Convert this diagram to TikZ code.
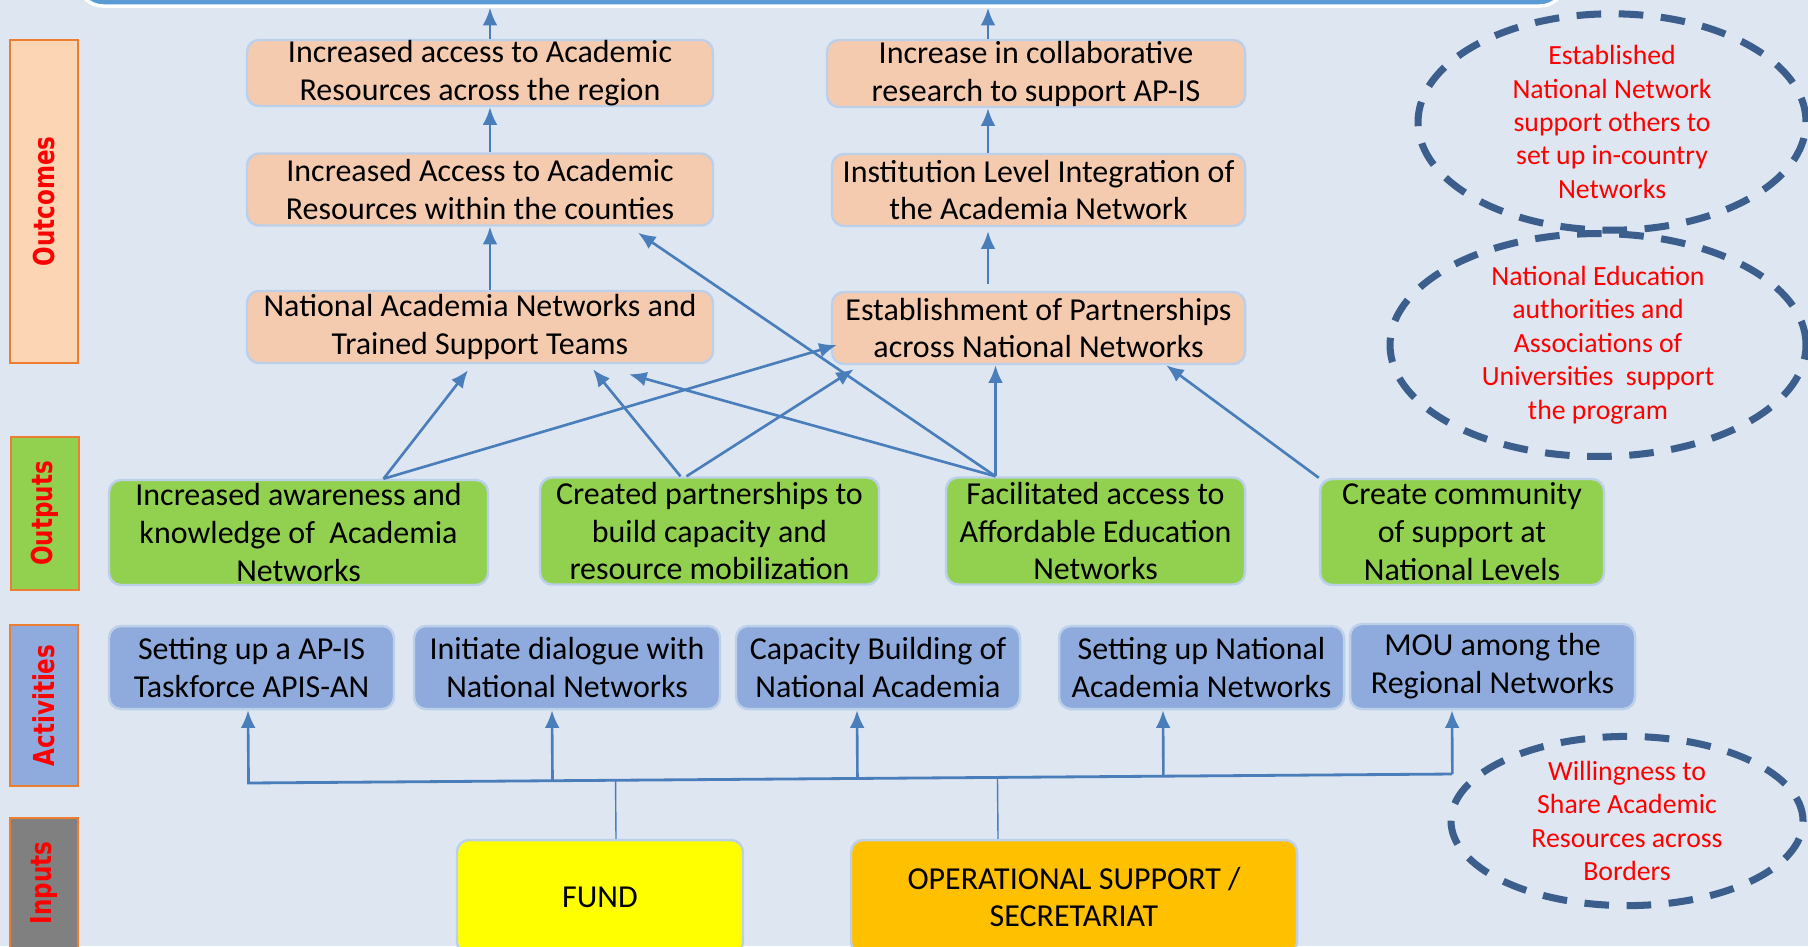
\documentclass[tikz,border=0pt]{standalone}
\usepackage{fontspec}
\setmainfont{Carlito}
\newfontfamily\sidefont{DejaVu Sans}[FakeStretch=0.8]
\usetikzlibrary{positioning}
\usetikzlibrary{calc}
\usetikzlibrary{shapes.geometric}
\usetikzlibrary{arrows.meta}
\definecolor{bg}{HTML}{DDE6F1}
\definecolor{goalblue}{HTML}{5B9BD5}
\definecolor{outcomefill}{HTML}{F5CBAF}
\definecolor{outcomelabel}{HTML}{FCD5B5}
\definecolor{outputfill}{HTML}{92D050}
\definecolor{activityfill}{HTML}{8FAADC}
\definecolor{inputlabel}{HTML}{808080}
\definecolor{fundfill}{HTML}{FFFF00}
\definecolor{opsfill}{HTML}{FFC000}
\definecolor{labeledge}{HTML}{ED7D31}
\definecolor{boxedge}{HTML}{BDD0EA}
\definecolor{linkblue}{HTML}{4A7EBB}
\definecolor{dashblue}{HTML}{3B5E8C}
\definecolor{redtext}{HTML}{FF0000}
\def\myrowheight{0.72cm}
\def\mylabelwidth{0.68cm}
\tikzset{
semithick, % All lines semithick
>={Latex[length=5pt,width=4.2pt]},
my node/.style={rectangle,rounded corners=1.2mm,draw=boxedge,line width=0.7pt,align=center,inner sep=0mm,font=\fontsize{9.1}{10.8}\selectfont},
outcome/.style={my node,fill=outcomefill,minimum height=\myrowheight},
outputbox/.style={my node,fill=outputfill,minimum height=1.07cm},
activity/.style={my node,fill=activityfill,minimum height=0.83cm},
inputbox/.style={my node,minimum height=1.14cm},
side label/.style={rectangle,draw=labeledge,line width=0.8pt,minimum height=\mylabelwidth,inner sep=0mm,text=redtext,font=\sidefont\bfseries\fontsize{8.2}{9}\selectfont,rotate=90},
assumption/.style={ellipse,draw=dashblue,line width=2pt,dash pattern=on 7pt off 5pt,align=center,inner sep=0mm,text=redtext,font=\fontsize{7.9}{9.5}\selectfont},
link/.style={->,draw=linkblue,line width=0.75pt},
}
\begin{document}
\begin{tikzpicture}
\useasboundingbox (0,0) rectangle (18.08,-9.46);
\clip (0,0) rectangle (18.08,-9.46);
\fill[bg] (0,0) rectangle (18.08,-9.46);
\node[rectangle,rounded corners=2.5mm,fill=goalblue,draw=white,line width=1pt,minimum width=14.87cm,minimum height=0.46cm] (goal) at (8.215,0.17) {};

\node[side label,fill=outcomelabel,minimum width=3.23cm] (lout) at (0.44,-2.015) {Outcomes};
\node[side label,fill=outputfill,minimum width=1.53cm] (lput) at (0.45,-5.135) {Outputs};
\node[side label,fill=activityfill,minimum width=1.61cm] (lact) at (0.44,-7.055) {Activities};
\node[side label,fill=inputlabel,minimum width=1.30cm] (linp) at (0.44,-8.83) {Inputs};

\node[outcome,minimum width=4.66cm,minimum height=0.66cm] (o1) at (4.80,-0.73) {Increased access to Academic\\Resources across the region};
\node[outcome,minimum width=4.66cm] (o2) at (4.80,-1.895) {Increased Access to Academic\\Resources within the counties};
\node[outcome,minimum width=4.66cm] (o3) at (4.80,-3.27) {National Academia Networks and\\Trained Support Teams};
\node[outcome,minimum width=4.18cm,minimum height=0.67cm] (o4) at (10.36,-0.735) {Increase in collaborative\\research to support AP-IS};
\node[outcome,minimum width=4.13cm] (o5) at (10.385,-1.90) {Institution Level Integration of\\the Academia Network};
\node[outcome,minimum width=4.13cm] (o6) at (10.385,-3.28) {Establishment of Partnerships\\across National Networks};

\node[outputbox,minimum width=3.79cm,minimum height=1.05cm] (p1) at (2.985,-5.325) {Increased awareness and\\knowledge of~~Academia\\Networks};
\node[outputbox,minimum width=3.39cm] (p2) at (7.095,-5.31) {Created partnerships to\\build capacity and\\resource mobilization};
\node[outputbox,minimum width=2.99cm] (p3) at (10.955,-5.31) {Facilitated access to\\Affordable Education\\Networks};
\node[outputbox,minimum width=2.84cm,minimum height=1.06cm] (p4) at (14.62,-5.32) {Create community\\of support at\\National Levels};

\node[activity,minimum width=2.85cm] (a1) at (2.515,-6.675) {Setting up a AP-IS\\Taskforce APIS-AN};
\node[activity,minimum width=3.06cm] (a2) at (5.67,-6.675) {Initiate dialogue with\\National Networks};
\node[activity,minimum width=2.84cm] (a3) at (8.78,-6.675) {Capacity Building of\\National Academia};
\node[activity,minimum width=2.85cm] (a4) at (12.015,-6.675) {Setting up National\\Academia Networks};
\node[activity,minimum width=2.85cm,minimum height=0.85cm] (a5) at (14.925,-6.665) {MOU among the\\Regional Networks};

\node[inputbox,fill=fundfill,minimum width=2.86cm] (fund) at (6.00,-8.97) {FUND};
\node[inputbox,fill=opsfill,minimum width=4.46cm] (ops) at (10.74,-8.97) {OPERATIONAL SUPPORT /\\SECRETARIAT};

\node[assumption,minimum width=3.88cm,minimum height=2.06cm] (e1) at (16.12,-1.22) {Established\\National Network\\support others to\\set up in-country\\Networks};
\node[assumption,minimum width=4.16cm,minimum height=1.98cm] (e2) at (15.98,-3.45) {National Education\\authorities and\\Associations of\\Universities~~support\\the program};
\node[assumption,minimum width=3.52cm,minimum height=1.68cm] (e3) at (16.27,-8.21) {Willingness to\\Share Academic\\Resources across\\Borders};

% outcomes
\coordinate (colA) at (4.90,0);
\coordinate (colB) at (9.88,0);
\draw[link] (o1.north -| colA) -- (goal.south -| colA);
\draw[link] (o2.north -| colA) -- (o1.south -| colA);
\draw[link] (o3.north -| colA) -- (o2.south -| colA);
\draw[link] (o4.north -| colB) -- (goal.south -| colB);
\draw[link] (o5.north -| colB) -- (o4.south -| colB);
\draw[link] ([yshift=0.7mm]o6.north -| colB) -- ([yshift=-0.4mm]o5.south -| colB);

% outputs
\coordinate (p1top) at ([xshift=8.5mm]p1.north);
\coordinate (p2topa) at ([xshift=-2.9mm]p2.north);
\coordinate (p2topb) at ([xshift=-2.3mm]p2.north);
\coordinate (p3top) at ([xshift=-10mm]p3.north);
\draw[link] (p1top) -- ([shift={(-1.2mm,-0.6mm)}]o3.south);
\draw[link] (p1top) -- ([shift={(0.6mm,-1.7mm)}]o6.west);
\draw[link] (p2topa) -- ([shift={(11.3mm,-0.5mm)}]o3.south);
\draw[link] (p2topb) -- ([shift={(2.3mm,-0.4mm)}]o6.south west);
\draw[link] (p3top) -- ([shift={(14.9mm,-1mm)}]o3.south);
\draw[link] (p3top) -- ([shift={(15.8mm,-0.6mm)}]o2.south);
\draw[link] (p3top) -- (p3top |- o6.south);
\draw[link] (p4.north west) -- ([xshift=-8mm]o6.south east);

% activities
\coordinate (busL) at (2.47,-7.83);
\coordinate (busR) at (14.52,-7.74);
\draw[thick,linkblue] (busL) -- (busR);
\draw[link] ($(busL)!([xshift=-0.35mm]a1.south)!(busR)$) -- ([xshift=-0.35mm]a1.south);
\draw[link] ($(busL)!([xshift=-1.5mm]a2.south)!(busR)$) -- ([xshift=-1.5mm]a2.south);
\draw[link] ($(busL)!([xshift=-2.1mm]a3.south)!(busR)$) -- ([xshift=-2.1mm]a3.south);
\draw[link] ($(busL)!([xshift=-3.85mm]a4.south)!(busR)$) -- ([xshift=-3.85mm]a4.south);
\draw[link] ($(busL)!([xshift=-4.05mm]a5.south)!(busR)$) -- ([xshift=-4.05mm]a5.south);

% inputs
\draw[thin,linkblue] ([xshift=1.6mm]fund.north) -- ($(busL)!([xshift=1.6mm]fund.north)!(busR)$);
\draw[thin,linkblue] ([xshift=-7.6mm]ops.north) -- ($(busL)!([xshift=-7.6mm]ops.north)!(busR)$);
\end{tikzpicture}
\end{document}
